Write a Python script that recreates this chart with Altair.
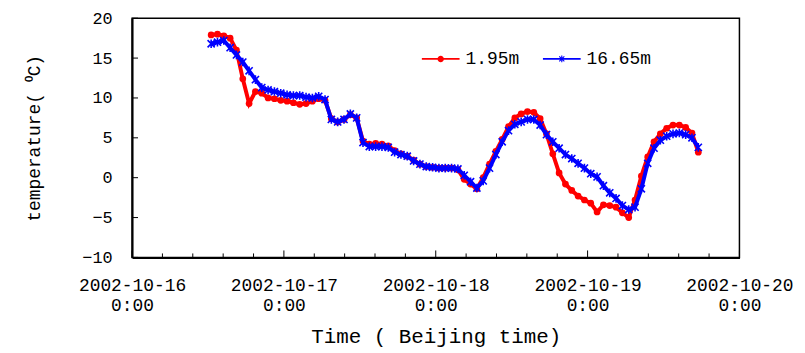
import altair as alt
import pandas as pd

# ---- data (hourly readings, starting 2002-10-16 12:30) ----
series_names = ["1.95m", "16.65m"]
series_colors = ["#ff0000", "#0000ff"]

temp_1_95m = [17.9, 18.0, 17.8, 17.5, 16.0, 12.4, 9.3, 10.8, 10.6, 10.0,
              9.9, 9.7, 9.6, 9.4, 9.2, 9.3, 9.6, 9.9, 9.7, 7.4,
              7.0, 7.3, 7.9, 7.5, 4.6, 4.2, 4.3, 4.2, 4.0, 3.4,
              3.0, 2.7, 2.2, 1.7, 1.4, 1.3, 1.2, 1.2, 1.2, 1.0,
              -0.2, -0.8, -1.4, 0.0, 1.7, 3.3, 4.8, 6.4, 7.5, 8.0,
              8.3, 8.2, 7.4, 5.5, 3.0, 0.6, -0.8, -1.6, -2.3, -2.8,
              -3.2, -4.3, -3.4, -3.5, -3.7, -4.4, -5.0, -2.8, 0.2, 2.6,
              4.5, 5.5, 6.2, 6.6, 6.6, 6.3, 5.6, 3.2]

temp_16_65m = [16.8, 17.0, 17.2, 16.3, 15.4, 14.5, 13.4, 12.3, 11.3, 11.0,
               10.8, 10.6, 10.4, 10.3, 10.3, 10.1, 10.0, 10.2, 9.8, 7.3,
               7.0, 7.3, 8.0, 7.5, 4.4, 3.9, 3.9, 3.9, 3.8, 3.2,
               2.9, 2.7, 2.1, 1.7, 1.4, 1.3, 1.2, 1.2, 1.2, 1.1,
               0.3, -0.5, -1.3, -0.4, 1.2, 2.9, 4.5, 5.9, 6.7, 7.0,
               7.3, 7.3, 6.6, 5.4, 4.5, 3.7, 2.9, 2.4, 1.8, 1.2,
               0.5, 0.1, -1.0, -1.9, -2.6, -3.5, -4.0, -3.7, -1.4, 1.8,
               3.7, 4.7, 5.2, 5.5, 5.6, 5.4, 5.0, 3.8]

sample_times = pd.date_range("2002-10-16 12:30", periods=len(temp_1_95m),
                             freq="h").strftime("%Y-%m-%dT%H:%M:%S").tolist()

y_tick_values = [-10, -5, 0, 5, 10, 15, 20]
x_day_ticks = ["2002-10-16T00:00:00", "2002-10-17T00:00:00", "2002-10-18T00:00:00",
               "2002-10-19T00:00:00", "2002-10-20T00:00:00"]
x_minor_ticks = [t for t in pd.date_range("2002-10-16 00:00", "2002-10-20 00:00",
                                          freq="288min").strftime("%Y-%m-%dT%H:%M:%S")
                 if t not in x_day_ticks]

df = pd.DataFrame({
    "time": sample_times * 2,
    "temp": temp_1_95m + temp_16_65m,
    "series": [series_names[0]] * len(temp_1_95m) + [series_names[1]] * len(temp_16_65m),
})

W, H = 612, 241
MONO = "Liberation Mono"

x_domain = [alt.DateTime(year=2002, month=10, date=16, hours=0),
            alt.DateTime(year=2002, month=10, date=20, hours=0)]
x_scale = alt.Scale(domain=x_domain)
y_scale = alt.Scale(domain=[-10, 20])

x_axis = alt.Axis(
    values=[alt.DateTime(year=2002, month=10, date=d, hours=0) for d in range(16, 21)],
    labelExpr="[timeFormat(datum.value, '%Y-%m-%d'), timeFormat(datum.value, '%-H:%M')]",
    ticks=False, grid=False, labelFlush=False, labelOverlap=False,
    labelFont=MONO, labelFontSize=18, labelLineHeight=20, labelPadding=19,
    labelColor="#000", title="Time ( Beijing time)", titleFont=MONO,
    titleFontSize=21, titleFontWeight="normal", titlePadding=12, titleColor="#000",
    domainColor="#000", domainWidth=2,
)
y_axis = alt.Axis(
    values=y_tick_values, ticks=False, grid=False, labelFont=MONO,
    labelFontSize=17, labelPadding=20, labelColor="#000",
    title="temperature( \u2070C)", titleFont=MONO, titleFontSize=18,
    titleFontWeight="normal", titlePadding=39, titleColor="#000",
    domainColor="#000", domainWidth=2,
)

base = alt.Chart(df).encode(
    x=alt.X("time:T", scale=x_scale, axis=x_axis),
    y=alt.Y("temp:Q", scale=y_scale, axis=y_axis),
)

asterisk = "M-1,-1L1,1M1,-1L-1,1M0,-1.2L0,1.2"

red_line = base.transform_filter(alt.datum.series == series_names[0]).mark_line(
    color=series_colors[0], strokeWidth=4)
red_pts = base.transform_filter(alt.datum.series == series_names[0]).mark_point(
    shape="circle", filled=True, color=series_colors[0], size=46, opacity=1)
blue_line = base.transform_filter(alt.datum.series == series_names[1]).mark_line(
    color=series_colors[1], strokeWidth=4)
blue_pts = base.transform_filter(alt.datum.series == series_names[1]).mark_point(
    shape=asterisk, filled=False, color=series_colors[1], size=52,
    strokeWidth=1.6, opacity=1)

# legend symbols: line with marker, as filled paths (all drawn clockwise)
leg_red = ("M-1,-0.045H1V0.045H-1Z "
           "M-0.17,0A0.17,0.17 0 1,1 0.17,0A0.17,0.17 0 1,1 -0.17,0Z")
leg_blue = ("M-1,-0.045H1V0.045H-1Z "
            "M-0.03,-0.18H0.03V0.18H-0.03Z "
            "M-0.155,-0.115L-0.115,-0.155L0.155,0.115L0.115,0.155Z "
            "M0.115,-0.155L0.155,-0.115L-0.115,0.155L-0.155,0.115Z")

legend_layer = base.transform_filter(alt.datum.temp > 1000).mark_point(
    filled=True, opacity=1).encode(
    color=alt.Color("series:N", scale=alt.Scale(domain=series_names, range=series_colors),
                    legend=alt.Legend(orient="none", legendX=291, legendY=21,
                                      direction="horizontal", title=None,
                                      symbolSize=1444, symbolOpacity=1,
                                      labelFont=MONO, labelFontSize=18,
                                      labelColor="#000", labelOffset=5,
                                      columnPadding=20)),
    shape=alt.Shape("series:N", scale=alt.Scale(domain=series_names,
                                                range=[leg_red, leg_blue])),
)

major_x = alt.Chart(pd.DataFrame({"time": x_day_ticks})).mark_rule(
    color="#000", strokeWidth=1).encode(
    x=alt.X("time:T", scale=x_scale, axis=x_axis),
    y=alt.value(H), y2=alt.value(H - 7))
minor_x = alt.Chart(pd.DataFrame({"time": x_minor_ticks})).mark_rule(
    color="#000", strokeWidth=1).encode(
    x=alt.X("time:T", scale=x_scale, axis=x_axis),
    y=alt.value(H), y2=alt.value(H - 4))
major_y = alt.Chart(pd.DataFrame({"temp": y_tick_values})).mark_rule(
    color="#000", strokeWidth=1).encode(
    y=alt.Y("temp:Q", scale=y_scale, axis=y_axis),
    x=alt.value(0), x2=alt.value(6))

chart = alt.layer(
    red_line, red_pts, blue_line, blue_pts, legend_layer, major_x, minor_x, major_y
).properties(
    width=W, height=H, background="white",
    autosize=alt.AutoSizeParams(type="none"),
    padding={"left": 125, "top": 9, "right": 58, "bottom": 94},
).configure_view(
    stroke="#000", strokeWidth=1.5
)

chart.save("out.html", embed_options={"renderer": "svg", "actions": False})
